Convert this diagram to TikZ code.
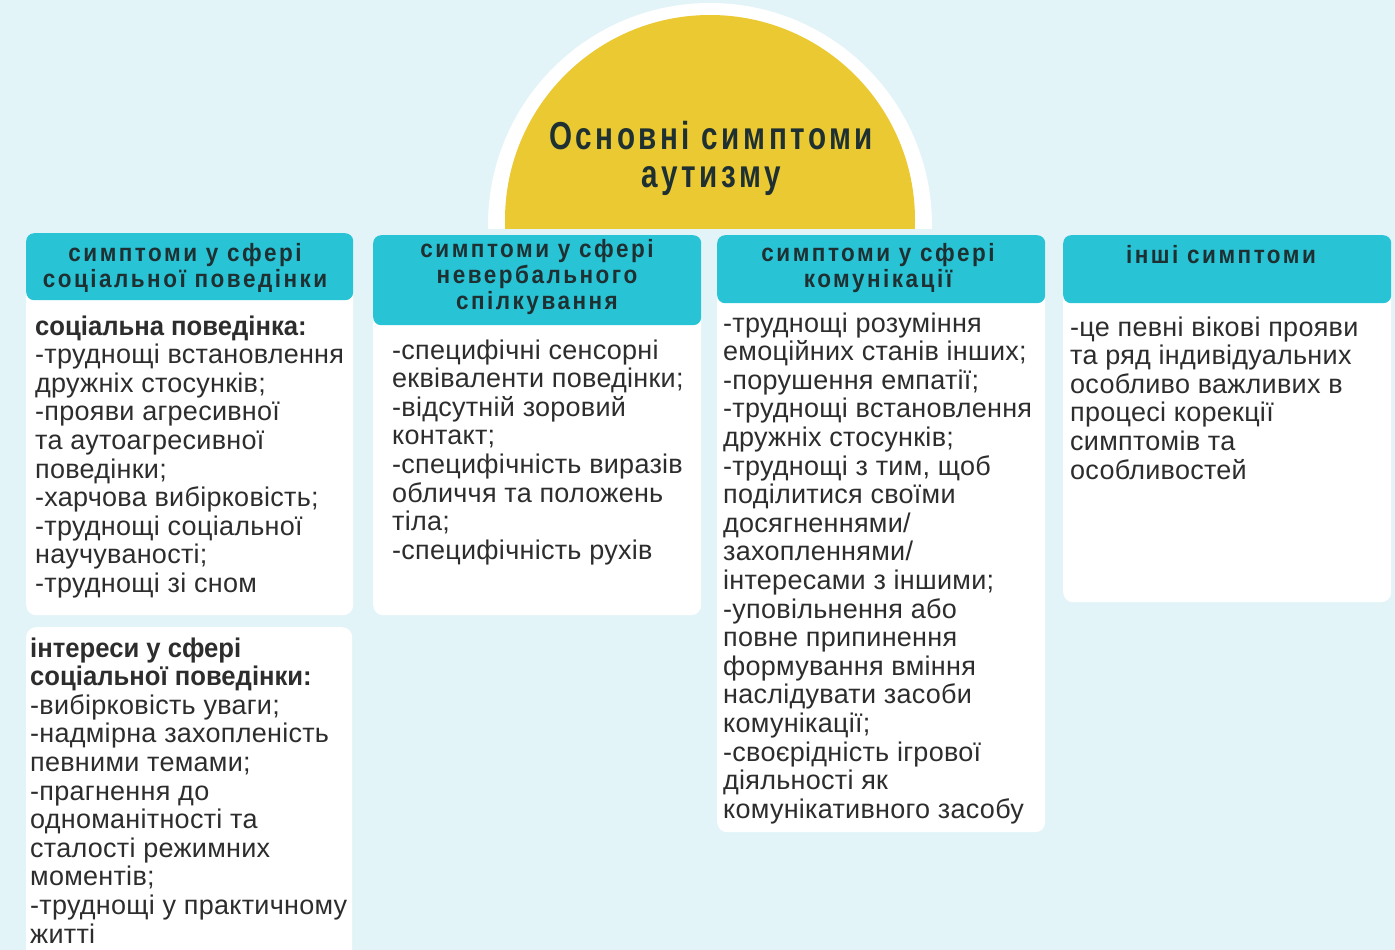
\documentclass[tikz,border=0pt]{standalone}
\usepackage{fontspec}
\setmainfont[LetterSpace=1]{Liberation Sans}
\newfontfamily\titlefnt[FakeStretch=0.76,LetterSpace=9]{Liberation Sans}
\newfontfamily\headfnt[FakeStretch=0.9,LetterSpace=10]{Liberation Sans}
\newfontfamily\subfnt[FakeStretch=0.95]{Liberation Sans}
\definecolor{bgblue}{RGB}{227,244,248}
\definecolor{sun}{RGB}{234,201,50}
\definecolor{teal}{RGB}{41,195,214}
\definecolor{ink}{RGB}{45,45,45}
\definecolor{headink}{RGB}{30,48,50}
\newcommand{\bodyfnt}{\fontsize{27}{28.6}\selectfont}
\newcommand{\headsize}{\fontsize{25}{26}\selectfont}
\newcommand{\subhead}[1]{{\subfnt\bfseries #1}}
\begin{document}
\begin{tikzpicture}[x=1pt,y=-1pt,
  cardbox/.style={fill=white, rounded corners=10pt, inner sep=0pt, anchor=north west, minimum width=#1},
  headbox/.style={fill=teal, rounded corners=8pt, inner sep=0pt, anchor=north west, minimum width=#1},
  bodytxt/.style={anchor=base west, inner sep=0pt, text=ink, font=\bodyfnt},
  headtxt/.style={anchor=base, inner sep=0pt, text=headink, font=\headfnt\bfseries\headsize},
  titletxt/.style={anchor=base, inner sep=0pt, text=headink, font=\titlefnt\bfseries\fontsize{39}{38}\selectfont}]
\useasboundingbox (0,0) rectangle (1395,950);
\fill[bgblue] (0,0) rectangle (1395,950);

% half disc with its white halo
\begin{scope}
  \clip (0,0) rectangle (1395,228);
  \fill[white] (710,225) circle (222pt);
  \fill[sun] (710,220) circle (205pt);
\end{scope}
\node[titletxt] (title) at (711,149) {\parbox[t]{420pt}{\centering Основні симптоми\\аутизму}};

% white cards
\node[cardbox=327pt, minimum height=382pt] (card1) at (26,233) {};
\node[cardbox=326pt, minimum height=340pt] (card1b) at (26,627) {};
\node[cardbox=328pt, minimum height=380pt] (card2) at (373,235) {};
\node[cardbox=328pt, minimum height=597pt] (card3) at (717,235) {};
\node[cardbox=328pt, minimum height=367pt] (card4) at (1063,235) {};

% teal headers
\node[headbox=327pt, minimum height=67pt] (head1) at (26,233) {};
\node[headbox=328pt, minimum height=90pt] (head2) at (373,235) {};
\node[headbox=328pt, minimum height=68pt] (head3) at (717,235) {};
\node[headbox=328pt, minimum height=68pt] (head4) at (1063,235) {};

% header captions
\node[headtxt] (cap1) at (185,261) {\parbox[t]{326pt}{\centering симптоми у сфері\\соціальної поведінки}};
\node[headtxt] (cap2) at (537,257) {\parbox[t]{326pt}{\centering симптоми у сфері\\невербального\\спілкування}};
\node[headtxt] (cap3) at (878,261) {\parbox[t]{326pt}{\centering симптоми у сфері\\комунікації}};
\node[headtxt] (cap4) at (1221,263) {\parbox[t]{326pt}{\centering інші симптоми}};

% card texts
\node[bodytxt] (txt1) at (35,335) {\parbox[t]{340pt}{\raggedright
\subhead{соціальна поведінка:}\\
-труднощі встановлення\\
дружніх стосунків;\\
-прояви агресивної\\
та аутоагресивної\\
поведінки;\\
-харчова вибірковість;\\
-труднощі соціальної\\
научуваності;\\
-труднощі зі сном}};

\node[bodytxt] (txt1b) at (30,657) {\parbox[t]{340pt}{\raggedright
\subhead{інтереси у сфері}\\
\subhead{соціальної поведінки:}\\
-вибірковість уваги;\\
-надмірна захопленість\\
певними темами;\\
-прагнення до\\
одноманітності та\\
сталості режимних\\
моментів;\\
-труднощі у практичному\\
житті}};

\node[bodytxt] (txt2) at (392,359) {\parbox[t]{340pt}{\raggedright
-специфічні сенсорні\\
еквіваленти поведінки;\\
-відсутній зоровий\\
контакт;\\
-специфічність виразів\\
обличчя та положень\\
тіла;\\
-специфічність рухів}};

\node[bodytxt] (txt3) at (723,332) {\parbox[t]{340pt}{\raggedright
-труднощі розуміння\\
емоційних станів інших;\\
-порушення емпатії;\\
-труднощі встановлення\\
дружніх стосунків;\\
-труднощі з тим, щоб\\
поділитися своїми\\
досягненнями/\\
захопленнями/\\
інтересами з іншими;\\
-уповільнення або\\
повне припинення\\
формування вміння\\
наслідувати засоби\\
комунікації;\\
-своєрідність ігрової\\
діяльності як\\
комунікативного засобу}};

\node[bodytxt] (txt4) at (1070,336) {\parbox[t]{340pt}{\raggedright
-це певні вікові прояви\\
та ряд індивідуальних\\
особливо важливих в\\
процесі корекції\\
симптомів та\\
особливостей}};
\end{tikzpicture}
\end{document}
